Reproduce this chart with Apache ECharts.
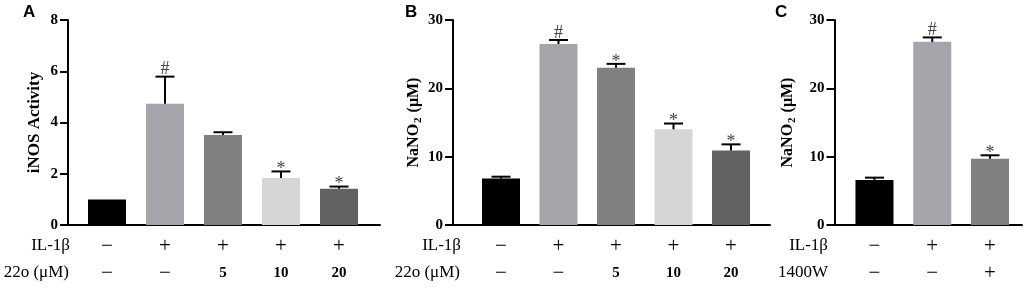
<!DOCTYPE html>
<html>
<head>
<meta charset="utf-8">
<script src="https://cdn.jsdelivr.net/npm/echarts@6/dist/echarts.min.js"></script>
<style>
html, body { margin: 0; padding: 0; background: #fff; }
#chart { width: 1024px; height: 291px; }
</style>
</head>
<body>
<div id="chart"></div>
<script>
// panel A : iNOS activity
var inosMean = [1.0, 4.73, 3.51, 1.83, 1.41];
var inosErr = [0, 1.06, 0.11, 0.26, 0.09];
var inosSig = ['', '#', '', '*', '*'];
// panel B : NaNO2, 22o dose
var nitriteMean = [6.8, 26.5, 23.0, 14.0, 10.9];
var nitriteErr = [0.27, 0.57, 0.58, 0.85, 0.9];
var nitriteSig = ['', '#', '*', '*', '*'];
// panel C : NaNO2, 1400W
var w1400Mean = [6.6, 26.8, 9.7];
var w1400Err = [0.33, 0.65, 0.5];
var w1400Sig = ['', '#', '*'];

// rows under the x axis
var il1bRow = ['−', '+', '+', '+', '+'];
var doseRow = ['−', '−', '5', '10', '20'];
var il1bRowC = ['−', '+', '+'];
var w1400Row = ['−', '−', '+'];

var inosTicks = { min: 0, max: 8, interval: 2 };
var nitriteTicks = { min: 0, max: 30, interval: 10 };

var barColors = ['#000000', '#a4a4aa', '#808080', '#d6d6d6', '#626262'];

var serif = '"Liberation Serif", "Times New Roman", serif';
var sans = '"Liberation Sans", Arial, sans-serif';

var chart = echarts.init(document.getElementById('chart'));

// main grids (bar bands) and wider grids that only carry the x axis line
var panels = [
	{ left: 78, width: 290, lineLeft: 68, lineWidth: 312, offset: 10 },
	{ left: 472.25, width: 287.5, lineLeft: 453, lineWidth: 317, offset: 19.25 },
	{ left: 845.6, width: 173.3, lineLeft: 834.5, lineWidth: 187.5, offset: 11.1 }
];
var TOP = 20, BOTTOM = 66;

function catAxis(grid, top, bottom) {
	return {
		type: 'category', gridIndex: grid,
		data: top.map(function (v, i) { return i; }),
		axisLine: { show: false },
		axisTick: { alignWithLabel: true, length: 8, lineStyle: { color: '#000', width: 2 } },
		axisLabel: {
			margin: 8,
			formatter: function (v, i) {
				var b = bottom[i];
				var bold = /\d/.test(b);
				return '{s|' + top[i] + '}\n' + (bold ? '{b|' : '{s|') + b + '}';
			},
			rich: {
				s: { fontFamily: serif, fontSize: 21, lineHeight: 27, color: '#000' },
				b: { fontFamily: serif, fontSize: 15, fontWeight: 'bold', lineHeight: 27, color: '#000' }
			}
		}
	};
}

function valAxis(grid, ticks, offset, name, gap, size) {
	return {
		type: 'value', gridIndex: grid,
		min: ticks.min, max: ticks.max, interval: ticks.interval,
		offset: offset,
		splitLine: { show: false },
		axisLine: { show: true, lineStyle: { color: '#000', width: 2 } },
		axisTick: { show: true, length: 8, lineStyle: { color: '#000', width: 2 } },
		axisLabel: { margin: 10, fontFamily: serif, fontSize: 15, fontWeight: 'bold', color: '#000' },
		name: name,
		nameLocation: 'middle',
		nameGap: gap,
		nameTextStyle: {
			fontFamily: serif, fontSize: size, fontWeight: 'bold', color: '#000',
			rich: {
				a: { fontFamily: serif, fontSize: size, fontWeight: 'bold', color: '#000' },
				sub: { fontFamily: serif, fontSize: 11, fontWeight: 'bold', color: '#000', padding: [9, 1, 0, 1] }
			}
		}
	};
}

function barSeries(grid, means) {
	return {
		type: 'bar', xAxisIndex: grid, yAxisIndex: grid,
		barWidth: 38,
		data: means.map(function (m, i) {
			return { value: m, itemStyle: { color: barColors[i] } };
		})
	};
}

function errSeries(grid, means, errs, sigs) {
	return {
		type: 'custom', xAxisIndex: grid, yAxisIndex: grid, z: 5,
		encode: { x: 0, y: 1 },
		data: means.map(function (m, i) { return [i, m, errs[i]]; }),
		renderItem: function (params, api) {
			var m = api.value(1), e = api.value(2);
			var base = api.coord([api.value(0), m]);
			var top = api.coord([api.value(0), m + e]);
			var kids = [];
			if (e > 0) {
				kids.push({ type: 'line', shape: { x1: base[0], y1: base[1], x2: top[0], y2: top[1] }, style: { stroke: '#000', lineWidth: 2 } });
				kids.push({ type: 'line', shape: { x1: top[0] - 9.5, y1: top[1], x2: top[0] + 9.5, y2: top[1] }, style: { stroke: '#000', lineWidth: 2 } });
			}
			var s = sigs[params.dataIndex];
			if (s) {
				kids.push({
					type: 'text',
					style: {
						text: s, x: top[0], y: top[1] + (s === '*' ? 7 : 2),
						align: 'center', verticalAlign: 'bottom',
						font: '18px ' + serif, fill: '#444'
					}
				});
			}
			return { type: 'group', children: kids };
		}
	};
}

var grids = [], xAxes = [], yAxes = [];
panels.forEach(function (p) {
	grids.push({ left: p.left, width: p.width, top: TOP, bottom: BOTTOM });
});
panels.forEach(function (p) {
	grids.push({ left: p.lineLeft, width: p.lineWidth, top: TOP, bottom: BOTTOM });
});

xAxes.push(catAxis(0, il1bRow, doseRow));
xAxes.push(catAxis(1, il1bRow, doseRow));
xAxes.push(catAxis(2, il1bRowC, w1400Row));
yAxes.push(valAxis(0, inosTicks, panels[0].offset, 'iNOS Activity', 25, 17));
yAxes.push(valAxis(1, nitriteTicks, panels[1].offset, '{a|NaNO}{sub|2}{a| (μM)}', 27, 16));
yAxes.push(valAxis(2, nitriteTicks, panels[2].offset, '{a|NaNO}{sub|2}{a| (μM)}', 37, 16));
for (var g = 3; g < 6; g++) {
	xAxes.push({
		type: 'value', gridIndex: g, min: 0, max: 1,
		axisLine: { show: true, lineStyle: { color: '#000', width: 2 } },
		axisTick: { show: false }, axisLabel: { show: false }, splitLine: { show: false }
	});
	yAxes.push({ type: 'value', gridIndex: g, min: 0, max: 1, show: false });
}

function txt(x, y, s, font, align) {
	return { type: 'text', x: x, y: y, style: { text: s, font: font, fill: '#000', align: align || 'right', verticalAlign: 'middle' } };
}

var rowFont = '17px ' + serif;
var letterFont = 'bold 17px ' + sans;

chart.setOption({
	animation: false,
	grid: grids,
	xAxis: xAxes,
	yAxis: yAxes,
	series: [
		barSeries(0, inosMean), errSeries(0, inosMean, inosErr, inosSig),
		barSeries(1, nitriteMean), errSeries(1, nitriteMean, nitriteErr, nitriteSig),
		barSeries(2, w1400Mean), errSeries(2, w1400Mean, w1400Err, w1400Sig)
	],
	graphic: [
		txt(23, 12, 'A', letterFont, 'left'),
		txt(405, 12, 'B', letterFont, 'left'),
		txt(775, 12, 'C', letterFont, 'left'),
		txt(70, 246, 'IL-1β', rowFont),
		txt(69, 273, '22o (μM)', rowFont),
		txt(461, 246, 'IL-1β', rowFont),
		txt(460, 273, '22o (μM)', rowFont),
		txt(828, 246, 'IL-1β', rowFont),
		txt(828, 273, '1400W', rowFont)
	]
});
</script>
</body>
</html>
